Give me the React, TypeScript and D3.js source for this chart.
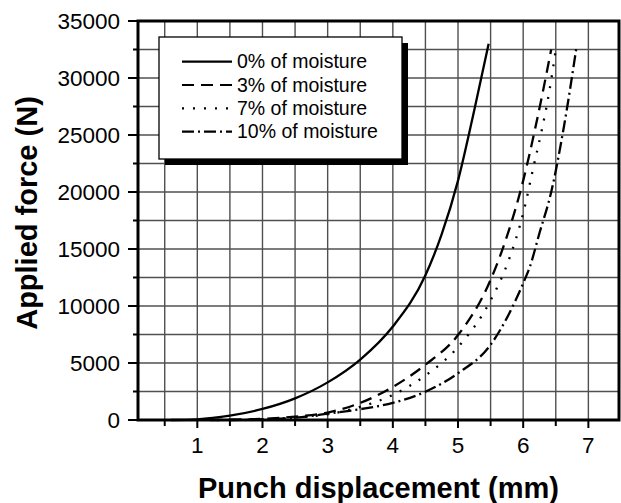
import * as React from "react";
import * as d3 from "d3";

// punch displacement (mm) / applied force (N)
const dry = [[0.6, 0], [1, 60], [1.5, 380], [2, 970], [2.5, 1900], [3, 3300], [3.5, 5300], [4, 8200], [4.5, 12700], [4.75, 16300], [5, 21000], [5.25, 27200], [5.47, 33000]];
const moist3 = [[1.2, 0], [1.5, 20], [2, 100], [2.5, 300], [3, 650], [3.5, 1500], [4, 2900], [4.5, 4850], [5, 7450], [5.5, 12300], [5.75, 16100], [6, 21000], [6.2, 26000], [6.43, 32500]];
const moist7 = [[1.3, 0], [2, 60], [2.5, 200], [3, 500], [3.5, 1150], [4, 2200], [4.5, 3900], [5, 6400], [5.5, 10500], [5.77, 13900], [6.02, 18600], [6.15, 22000], [6.28, 25300], [6.4, 28800], [6.5, 32500]];
const moist10 = [[1.5, 0], [2, 50], [2.5, 200], [3, 550], [3.5, 950], [4, 1500], [4.5, 2480], [5, 4100], [5.5, 6600], [6, 12000], [6.1, 13400], [6.25, 16400], [6.43, 20000], [6.63, 25900], [6.82, 32800]];

const seriesNames = ["0% of moisture", "3% of moisture", "7% of moisture", "10% of moisture"];
const seriesData = [dry, moist3, moist7, moist10];
const dashes = ["none", "12,7", "2,9", "12,4,2,4"];

const xTicks = [1, 2, 3, 4, 5, 6, 7];
const xGrid = [0.5, 1, 1.5, 2, 2.5, 3, 3.5, 4, 4.5, 5, 5.5, 6, 6.5, 7];
const yTicks = [0, 5000, 10000, 15000, 20000, 25000, 30000, 35000];
const yGrid = [2500, 5000, 7500, 10000, 12500, 15000, 17500, 20000, 22500, 25000, 27500, 30000, 32500];

const font = "'Liberation Sans', Arial, Helvetica, sans-serif";

export default function App() {
    const width = 621, height = 503;
    const x = d3.scaleLinear().domain([0.09, 7.47]).range([138, 619]);
    const y = d3.scaleLinear().domain([0, 35000]).range([420, 21]);
    const line = d3.line<number[]>()
        .x(d => x(d[0]))
        .y(d => y(d[1]))
        .curve(d3.curveMonotoneX);

    const x0 = x.range()[0], x1 = x.range()[1];
    const y0 = y.range()[0], y1 = y.range()[1];

    // legend box
    const lx = 159, ly = 37, lw = 243, lh = 122;

    return (
        <svg width={width} height={height} style={{ position: "absolute", left: 0, top: 0, background: "#fff" }} fontFamily={font}>
            {/* grid */}
            {xGrid.map(v => <line key={"gx" + v} x1={x(v)} x2={x(v)} y1={y0} y2={y1} stroke="#505050" strokeWidth={1.4} />)}
            {yGrid.map(v => <line key={"gy" + v} x1={x0} x2={x1} y1={y(v)} y2={y(v)} stroke="#505050" strokeWidth={1.4} />)}

            {/* legend */}
            <rect x={lx + 6} y={ly + 6} width={lw} height={lh} fill="#000" />
            <rect x={lx} y={ly} width={lw} height={lh} fill="#fff" stroke="#000" strokeWidth={1.3} />
            {seriesNames.map((name, i) => {
                const cy = 61.7 + i * 23.3;
                return (
                    <g key={name}>
                        <line x1={182} x2={232} y1={cy} y2={cy} stroke="#000" strokeWidth={2.2} strokeDasharray={dashes[i]} />
                        <text x={237} y={cy + 6.6} fontSize={19.5}>{name}</text>
                    </g>
                );
            })}

            {/* curves */}
            {seriesData.map((s, i) => (
                <path key={i} d={line(s) || ""} fill="none" stroke="#000" strokeWidth={2.3} strokeDasharray={dashes[i]} />
            ))}

            {/* frame */}
            <rect x={x0} y={y1} width={x1 - x0} height={y0 - y1} fill="none" stroke="#000" strokeWidth={3} />

            {/* y axis */}
            {yTicks.map(v => (
                <g key={"yt" + v}>
                    <line x1={x0 - 10} x2={x0} y1={y(v)} y2={y(v)} stroke="#000" strokeWidth={2} />
                    <text x={120} y={y(v) + 8} fontSize={22.5} textAnchor="end">{v}</text>
                </g>
            ))}
            {yGrid.filter(v => v % 5000 !== 0).map(v => (
                <line key={"ym" + v} x1={x0 - 5} x2={x0} y1={y(v)} y2={y(v)} stroke="#000" strokeWidth={2} />
            ))}

            {/* x axis */}
            {xGrid.map(v => (
                <line key={"xt" + v} x1={x(v)} x2={x(v)} y1={y0} y2={y0 + (v % 1 === 0 ? 8 : 6)} stroke="#000" strokeWidth={2} />
            ))}
            {xTicks.map(v => (
                <text key={"xl" + v} x={x(v)} y={453} fontSize={22.5} textAnchor="middle">{v}</text>
            ))}

            {/* titles */}
            <text x={(x0 + x1) / 2} y={498} fontSize={29} fontWeight="bold" textAnchor="middle">Punch displacement (mm)</text>
            <text transform={`translate(37,${213}) rotate(-90)`} fontSize={29} fontWeight="bold" textAnchor="middle">Applied force (N)</text>
        </svg>
    );
}
